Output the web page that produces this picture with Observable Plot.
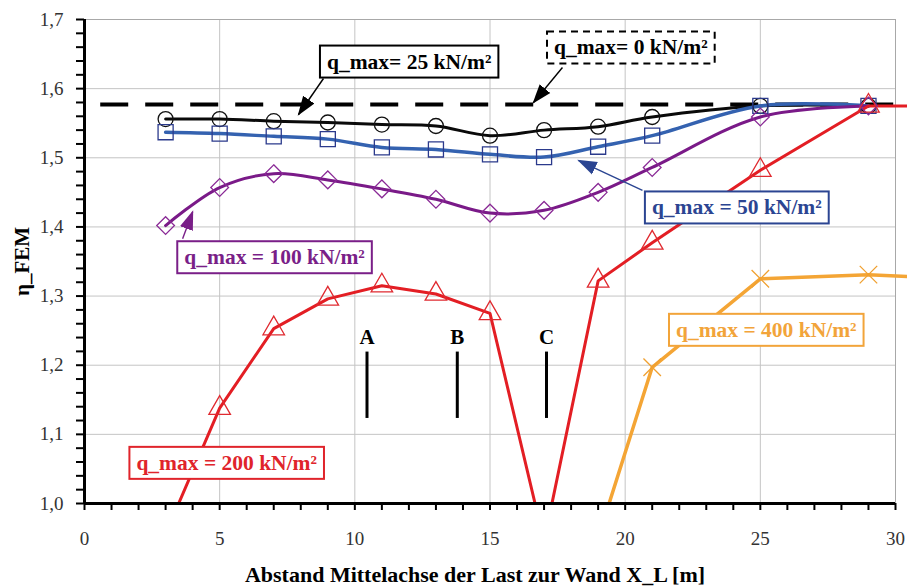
<!DOCTYPE html>
<html><head><meta charset="utf-8">
<script src="https://cdn.jsdelivr.net/npm/d3@7"></script>
<script src="https://cdn.jsdelivr.net/npm/@observablehq/plot@0.6"></script>
<style>body{margin:0;background:#fff;} #chart svg{display:block;}</style>
</head><body><div id="chart"></div>
<script>
// ---------- data ----------
const xPos = [3, 5, 7, 9, 11, 13, 15, 17, 19, 21, 25, 29];
const q25  = [1.556, 1.556, 1.553, 1.551, 1.548, 1.546, 1.532, 1.540, 1.545, 1.559, 1.575, 1.575];
const q50  = [1.537, 1.535, 1.531, 1.527, 1.515, 1.512, 1.505, 1.501, 1.516, 1.532, 1.575, 1.575];
const q100 = [1.402, 1.457, 1.477, 1.468, 1.455, 1.440, 1.420, 1.424, 1.450, 1.486, 1.559, 1.575];
const q200X = [3, 5, 7, 9, 11, 13, 15, 17, 19, 21, 25, 29, 31];
const q200  = [0.956, 1.138, 1.253, 1.296, 1.315, 1.303, 1.275, 0.945, 1.322, 1.377, 1.482, 1.575, 1.575];
const q400X = [19, 21, 25, 29, 31];
const q400  = [0.950, 1.197, 1.325, 1.331, 1.327];
const q0Value = 1.577;
const q0Range = [0.6, 30];

const xTicks = [0, 5, 10, 15, 20, 25, 30];
const xMinor = [1,2,3,4,6,7,8,9,11,12,13,14,16,17,18,19,21,22,23,24,26,27,28,29];
const yTicks = [1.0, 1.1, 1.2, 1.3, 1.4, 1.5, 1.6, 1.7];
const yMinor = [1.02,1.04,1.06,1.08,1.12,1.14,1.16,1.18,1.22,1.24,1.26,1.28,1.32,1.34,1.36,1.38,
                1.42,1.44,1.46,1.48,1.52,1.54,1.56,1.58,1.62,1.64,1.66,1.68];

const labelTexts = ["q_max= 25 kN/m²", "q_max= 0 kN/m²", "q_max = 50 kN/m²", "q_max = 100 kN/m²", "q_max = 200 kN/m²", "q_max = 400 kN/m²"];
const labelX = [12.01, 20.21, 24.13, 7.03, 5.26, 25.22];
const labelY = [1.639, 1.6595, 1.428, 1.356, 1.0586, 1.251];
const labelColors = ["#000000", "#000000", "#2b4592", "#7a1f88", "#e0242b", "#f2a43a"];

const arrowFromX = [8.84, 17.68, 20.64, 3.63];
const arrowFromY = [1.6147, 1.6306, 1.4527, 1.383];
const arrowToX   = [7.92, 16.61, 18.28, 4.0];
const arrowToY   = [1.5626, 1.580, 1.496, 1.422];
const arrowColors = ["#000000", "#000000", "#2b4592", "#7a1f88"];

const abcNames = ["A", "B", "C"];
const abcX = [10.45, 13.79, 17.09];
const abcLineY = [1.123, 1.219];
const abcLabelY = 1.2405;

const xTitle = "Abstand Mittelachse der Last zur Wand X_L [m]";
const yTitle = "η_FEM";

// ---------- build ----------
const W = 907, H = 586;
const M = {left: 84, right: 12, top: 19, bottom: 83};

const series = [
  {xs: xPos, ys: q25,  line: "#0a0a0a", mk: "#111111", sym: "circle",   r: 7.5, curve: "catmull-rom", sw: 3},
  {xs: xPos, ys: q50,  line: "#3462b0", mk: "#2b3a8c", sym: "square",   r: 8.5, curve: "catmull-rom", sw: 3.5},
  {xs: xPos, ys: q100, line: "#7a1a88", mk: "#8a2a96", sym: "diamond2", r: 8,   curve: "catmull-rom", sw: 3},
  {xs: q400X, ys: q400, line: "#f4a535", mk: "#f0a030", sym: "times",   r: 8,   curve: "linear", sw: 3.5},
  {xs: q200X, ys: q200, line: "#e31e24", mk: "#e02a30", sym: "triangle", r: 8,  curve: "linear", sw: 3}
];

const marks = [
  Plot.gridX(xTicks.filter(d => d > 0 && d < 30), {stroke: "#c4c4c4", strokeOpacity: 1}),
  Plot.gridY(yTicks.filter(d => d > 1 && d < 1.7), {stroke: "#c4c4c4", strokeOpacity: 1}),
  Plot.ruleY([1.7], {stroke: "#a8a8a8"}),
  Plot.ruleX([30], {stroke: "#a8a8a8"}),
  Plot.ruleY([q0Value], {x1: q0Range[0], x2: q0Range[1], stroke: "#000", strokeWidth: 4, strokeDasharray: "28,17"})
];

for (const s of series) {
  const rows = s.xs.map((x, i) => ({x, y: s.ys[i]}));
  marks.push(Plot.line(rows, {x: "x", y: "y", stroke: s.line, strokeWidth: s.sw, curve: s.curve, className: "series"}));
}
for (const s of series) {
  const rows = s.xs.map((x, i) => ({x, y: s.ys[i]})).filter(d => d.x <= 30);
  marks.push(Plot.dot(rows, {x: "x", y: "y", symbol: s.sym, stroke: s.mk, fill: "none", r: s.r, strokeWidth: 1.3, className: "series"}));
}

const arrows = arrowFromX.map((x, i) => ({x1: x, y1: arrowFromY[i], x2: arrowToX[i], y2: arrowToY[i], c: arrowColors[i]}));
marks.push(Plot.link(arrows, {x1: "x1", y1: "y1", x2: "x2", y2: "y2", stroke: "c", strokeWidth: 1.4, markerEnd: "arrow", className: "arrows"}));

const labels = labelTexts.map((t, i) => ({t, x: labelX[i], y: labelY[i], c: labelColors[i]}));
marks.push(Plot.text(labels, {x: "x", y: "y", text: "t", fill: "c", fontFamily: "Liberation Serif", fontWeight: "bold", fontSize: 21.5, className: "qlabel"}));

marks.push(Plot.ruleX(abcX, {y1: abcLineY[0], y2: abcLineY[1], stroke: "#000", strokeWidth: 3}));
marks.push(Plot.text(abcNames, {x: (d, i) => abcX[i], y: () => abcLabelY, text: d => d, fontFamily: "Liberation Serif", fontWeight: "bold", fontSize: 21, fill: "#000"}));

// axes
marks.push(
  Plot.axisY(yMinor, {tickSize: 8, tickFormat: () => "", stroke: "#000", strokeWidth: 2, label: null}),
  Plot.axisY(yTicks, {tickSize: 8, tickPadding: 13, tickFormat: d => d.toFixed(1).replace(".", ","), stroke: "#000", strokeWidth: 2, label: null, className: "ticklab"}),
  Plot.axisX(xMinor, {tickSize: 7, tickFormat: () => "", stroke: "#000", strokeWidth: 2, label: null}),
  Plot.axisX(xTicks, {tickSize: 7, tickPadding: 21, tickFormat: d => String(d), stroke: "#000", strokeWidth: 2, label: null, className: "ticklab"}),
  Plot.ruleX([0], {stroke: "#000", strokeWidth: 3}),
  Plot.ruleY([1], {stroke: "#000", strokeWidth: 3}),
  Plot.text([yTitle], {frameAnchor: "left", dx: -62, rotate: -90, textAnchor: "middle", lineAnchor: "middle", fontFamily: "Liberation Serif", fontWeight: "bold", fontSize: 21, fill: "#000"}),
  Plot.text([xTitle], {frameAnchor: "bottom", dy: 71, dx: -15, textAnchor: "middle", lineAnchor: "middle", fontFamily: "Liberation Serif", fontWeight: "bold", fontSize: 22, fill: "#000"})
);

const chart = Plot.plot({
  width: W, height: H,
  marginLeft: M.left, marginRight: M.right, marginTop: M.top, marginBottom: M.bottom,
  x: {domain: [0, 30], label: null},
  y: {domain: [1.0, 1.7], label: null},
  style: {fontFamily: "Liberation Serif", fontSize: "19px", color: "#000", background: "#fff"},
  marks
});
document.getElementById("chart").append(chart);

// ---------- post-processing ----------
const svg = d3.select(chart).attr("overflow", "hidden");
const defs = svg.append("defs");
defs.append("clipPath").attr("id", "clipData")
  .append("rect").attr("x", M.left).attr("y", M.top).attr("width", W - M.left).attr("height", H - M.top - M.bottom);
svg.selectAll("g.series").attr("clip-path", "url(#clipData)");

// tick label colour
svg.selectAll("g.ticklab text").attr("fill", "#333");

// filled arrowheads
svg.selectAll("g.arrows marker").each(function() {
  const m = d3.select(this);
  const c = m.attr("stroke");
  m.attr("viewBox", "-11 -5 12 10").attr("markerWidth", 14).attr("markerHeight", 11.7)
   .attr("fill", c).attr("stroke", "none");
  m.selectAll("path").attr("d", "M-11,-4.2L1,0L-11,4.2Z");
});

// label boxes
svg.selectAll("g.qlabel text").each(function(_, i) {
  const b = this.getBBox();
  const padX = 7, padY = 4;
  const c = this.getAttribute("fill") || labelColors[i];
  d3.select(this.parentNode).insert("rect", () => this)
    .attr("transform", this.getAttribute("transform"))
    .attr("x", b.x - padX).attr("y", b.y - padY)
    .attr("width", b.width + 2 * padX).attr("height", b.height + 2 * padY)
    .attr("fill", "#fff").attr("stroke", c).attr("stroke-width", 2)
    .attr("stroke-dasharray", i === 1 ? "7,5" : null);
});
</script>
</body></html>
